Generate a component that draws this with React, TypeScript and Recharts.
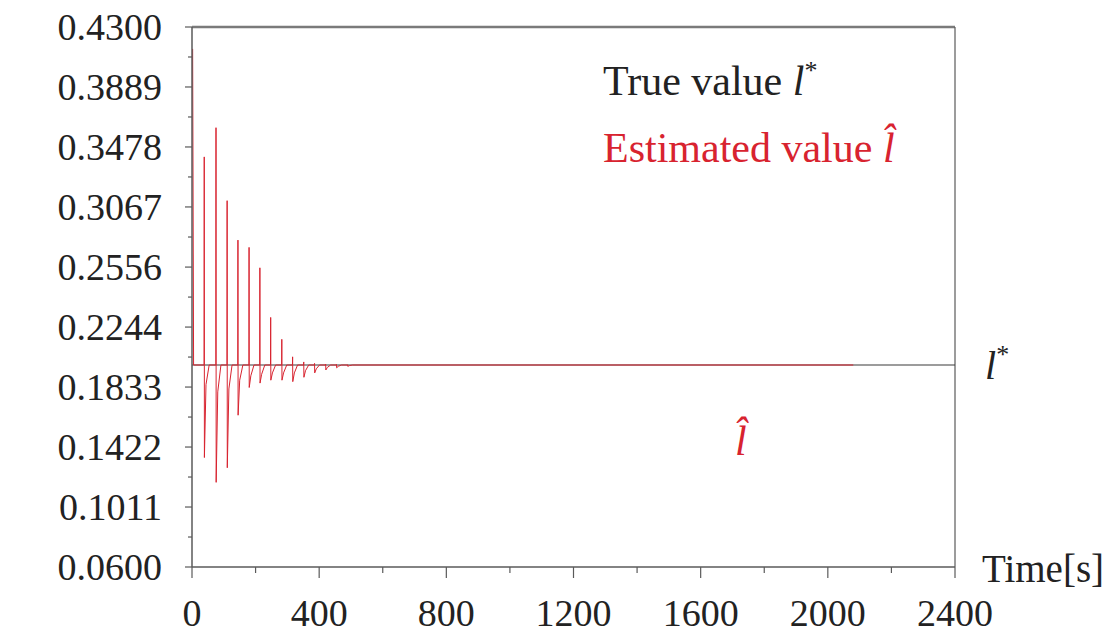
import React from 'react';
import { LineChart, Line, XAxis, YAxis, ReferenceLine } from 'recharts';

// axis ticks
const xTicks = [0, 200, 400, 600, 800, 1000, 1200, 1400, 1600, 1800, 2000, 2200, 2400];
const xLabeled = [0, 400, 800, 1200, 1600, 2000, 2400];
const yTicks = [0.06, 0.1011, 0.1422, 0.1833, 0.2244, 0.2655, 0.3067, 0.3478, 0.3889, 0.43];
const yTickLabels = ['0.0600', '0.1011', '0.1422', '0.1833', '0.2244', '0.2556', '0.3067', '0.3478', '0.3889', '0.4300'];

// true value l*
const trueTime = [0, 2400];
const trueValue = [0.1984, 0.1984];

// estimated value: start, spikes (peak / trough / partial recovery), end
const startTime = [2, 5];
const startValue = [0.415, 0.1984];
const spikeTime = [38, 75, 110, 144, 179, 213, 247, 282, 316, 351, 385, 420, 454, 489];
const spikePeak = [0.341, 0.361, 0.311, 0.284, 0.279, 0.265, 0.231, 0.216, 0.204, 0.2005, 0.1995, 0.199, 0.1988, 0.1986];
const spikeTrough = [0.135, 0.118, 0.128, 0.164, 0.183, 0.186, 0.188, 0.188, 0.187, 0.19, 0.193, 0.195, 0.1965, 0.1975];
const spikeRecover = [0.185, 0.18, 0.182, 0.188, 0.191, 0.192, 0.193, 0.193, 0.193, 0.1945, 0.1958, 0.1968, 0.1975, 0.198];
const baseValue = 0.1984;
const endTime = 2080;

const trueData = trueTime.map((t, i) => ({ t, v: trueValue[i] }));

const estData: { t: number; v: number }[] = startTime.map((t, i) => ({ t, v: startValue[i] }));
spikeTime.forEach((t, i) => {
  estData.push({ t, v: baseValue });
  estData.push({ t: t + 0.5, v: spikePeak[i] });
  estData.push({ t: t + 1, v: spikeTrough[i] });
  estData.push({ t: t + 6, v: spikeRecover[i] });
  estData.push({ t: t + 16, v: baseValue });
});
estData.push({ t: endTime, v: baseValue });

const yMinor = yTicks.slice(0, -1).map((v, i) => (v + yTicks[i + 1]) / 2);
const yAllTicks = [...yTicks, ...yMinor].sort((a, b) => a - b);

const FONT = "'Liberation Serif', 'DejaVu Serif', serif";
const AXIS = '#5a5a5a';
const RED = '#d8232f';

const YTick = (props: any) => {
  const { x, y, payload } = props;
  const idx = yTicks.findIndex((v) => Math.abs(v - payload.value) < 1e-6);
  const major = idx >= 0;
  return (
    <g>
      <line x1={x - (major ? 7 : 4)} x2={x} y1={y} y2={y} stroke={AXIS} strokeWidth={1.2} />
      {major && (
        <text x={x - 30} y={y} textAnchor="end" dominantBaseline="central" style={{ fontFamily: FONT, fontSize: 38 }} fill="#222">
          {yTickLabels[idx]}
        </text>
      )}
    </g>
  );
};

const XTick = (props: any) => {
  const { x, y, payload } = props;
  const major = xLabeled.includes(payload.value);
  return (
    <g>
      <line x1={x} x2={x} y1={y} y2={y + (major ? 11 : 6)} stroke={AXIS} strokeWidth={1.2} />
      {major && (
        <text x={x} y={y + 46} textAnchor="middle" dominantBaseline="central" style={{ fontFamily: FONT, fontSize: 38 }} fill="#222">
          {payload.value}
        </text>
      )}
    </g>
  );
};

export default function App() {
  return (
    <div style={{ position: 'absolute', left: 0, top: 0, width: 1112, height: 640, background: '#fff', fontFamily: FONT }}>
      <LineChart width={1112} height={640} margin={{ top: 27, right: 157, bottom: 0, left: 0 }}>
        <XAxis
          type="number"
          dataKey="t"
          domain={[0, 2400]}
          ticks={xTicks}
          interval={0}
          allowDataOverflow
          height={73}
          tickSize={0}
          tickMargin={0}
          tickLine={false}
          tick={<XTick />}
          axisLine={{ stroke: AXIS, strokeWidth: 1.5 }}
        />
        <YAxis
          type="number"
          dataKey="v"
          domain={[0.06, 0.43]}
          ticks={yAllTicks}
          interval={0}
          allowDataOverflow
          width={192}
          tickSize={0}
          tickMargin={0}
          tickLine={false}
          tick={<YTick />}
          axisLine={{ stroke: AXIS, strokeWidth: 1.5 }}
        />
        <ReferenceLine y={0.43} stroke="#7a7a7a" strokeWidth={2.5} />
        <ReferenceLine x={2400} stroke={AXIS} strokeWidth={1.2} />
        <Line data={trueData} dataKey="v" stroke="#3a3a3a" strokeWidth={1.2} dot={false} isAnimationActive={false} />
        <Line data={estData} dataKey="v" stroke={RED} strokeWidth={1} dot={false} isAnimationActive={false} />
      </LineChart>
      <svg width={1112} height={640} style={{ position: 'absolute', left: 0, top: 0, pointerEvents: 'none', fontFamily: FONT }}>
        <text x={603} y={95} style={{ fontSize: 42 }} fill="#222">
          True value <tspan fontStyle="italic">l</tspan>
          <tspan style={{ fontSize: 26 }} dy={-16}>*</tspan>
        </text>
        <text x={603} y={162} style={{ fontSize: 42 }} fill={RED}>
          Estimated value <tspan fontStyle="italic">l̂</tspan>
        </text>
        <text x={985} y={379} style={{ fontSize: 40 }} fill="#222">
          <tspan fontStyle="italic">l</tspan>
          <tspan style={{ fontSize: 26 }} dy={-16}>*</tspan>
        </text>
        <text x={735} y={455} style={{ fontSize: 42 }} fill={RED} fontStyle="italic">
          l̂
        </text>
        <text x={982} y={582} style={{ fontSize: 39 }} fill="#222">
          Time[s]
        </text>
      </svg>
    </div>
  );
}
